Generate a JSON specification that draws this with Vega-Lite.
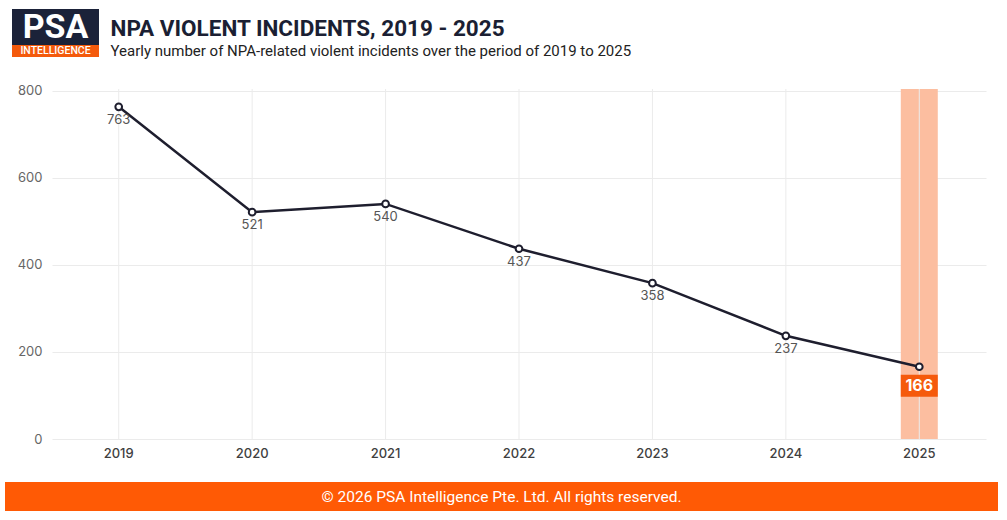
{
  "$schema": "https://vega.github.io/schema/vega-lite/v6.json",
  "background": "white",
  "padding": {"left": 5, "top": 9, "right": 9, "bottom": 9},
  "config": {"view": {"stroke": null}},
  "bounds": "full",
  "spacing": 0,
  "vconcat": [
    {
      "bounds": "full",
      "spacing": 0,
      "hconcat": [
        {"width": 7, "height": 20, "data": {"values": [{}]}, "mark": "text", "encoding": {"text": {"value": ""}}},
        {
          "bounds": "full",
          "spacing": 0,
          "vconcat": [
            {
              "width": 87, "height": 36,
              "view": {"fill": "#1b2239", "stroke": null},
              "data": {"values": [{}]},
              "mark": {"type": "text", "color": "white", "fontSize": 34, "fontWeight": "bold", "font": "Roboto", "baseline": "middle", "dy": 1},
              "encoding": {"text": {"value": "PSA"}}
            },
            {
              "width": 87, "height": 12,
              "view": {"fill": "#f45a0c", "stroke": null},
              "data": {"values": [{}]},
              "mark": {"type": "text", "color": "white", "fontSize": 10.5, "fontWeight": 500, "font": "Roboto", "baseline": "middle"},
              "encoding": {"text": {"value": "INTELLIGENCE"}}
            }
          ]
        },
        {"width": 11, "height": 20, "data": {"values": [{}]}, "mark": "text", "encoding": {"text": {"value": ""}}},
        {
          "width": 1, "height": 50,
          "data": {"values": [{}]},
          "layer": [
            {
              "mark": {"type": "text", "align": "left", "baseline": "middle", "dy": -5, "fontSize": 22.5, "fontWeight": "bold", "color": "#1b1f33", "font": "Roboto"},
              "encoding": {"text": {"value": "NPA VIOLENT INCIDENTS, 2019 - 2025"}}
            },
            {
              "mark": {"type": "text", "align": "left", "baseline": "middle", "dy": 16.5, "fontSize": 15, "color": "#222222", "font": "Roboto"},
              "encoding": {"text": {"value": "Yearly number of NPA-related violent incidents over the period of 2019 to 2025"}}
            }
          ]
        }
      ]
    },
    {"width": 1, "height": 25, "data": {"values": [{}]}, "mark": "text", "encoding": {"text": {"value": ""}}},
    {
      "bounds": "flush",
      "spacing": 0,
      "hconcat": [
        {"width": 47, "height": 20, "data": {"values": [{}]}, "mark": "text", "encoding": {"text": {"value": ""}}},
        {
          "width": 934,
          "height": 350,
          "data": {"values": [
            {"year": 2019, "incidents": 763},
            {"year": 2020, "incidents": 521},
            {"year": 2021, "incidents": 540},
            {"year": 2022, "incidents": 437},
            {"year": 2023, "incidents": 358},
            {"year": 2024, "incidents": 237},
            {"year": 2025, "incidents": 166}
          ]},
          "encoding": {
            "x": {
              "field": "year", "type": "ordinal",
              "axis": {"title": null, "labelAngle": 0, "domain": false, "ticks": false, "grid": false, "labelColor": "#3f3f3f", "labelFontSize": 13, "labelPadding": 8, "labelFont": "Inter", "labelFontWeight": 500}
            }
          },
          "layer": [
            {
              "transform": [{"filter": "datum.year == 2025"}],
              "mark": {"type": "bar", "color": "#fcbea0", "width": 37}
            },
            {
              "mark": {"type": "rule", "color": "#ebebeb", "strokeWidth": 1}
            },
            {
              "mark": {"type": "line", "color": "#1e1e2e", "strokeWidth": 2.5},
              "encoding": {
                "y": {
                  "field": "incidents", "type": "quantitative",
                  "scale": {"domain": [0, 804], "nice": false},
                  "axis": {"title": null, "values": [0, 200, 400, 600, 800], "domain": false, "ticks": false, "labelColor": "#666666", "labelFontSize": 13, "labelPadding": 10, "labelFont": "Inter", "gridColor": "#ebebeb"}
                }
              }
            },
            {
              "mark": {"type": "point", "filled": true, "fill": "white", "stroke": "#1e1e2e", "strokeWidth": 2, "size": 45, "opacity": 1},
              "encoding": {"y": {"field": "incidents", "type": "quantitative"}}
            },
            {
              "transform": [{"filter": "datum.year != 2025"}],
              "mark": {"type": "text", "baseline": "middle", "dy": 13, "fontSize": 13, "color": "#555555", "font": "Inter"},
              "encoding": {
                "y": {"field": "incidents", "type": "quantitative"},
                "text": {"field": "incidents", "type": "quantitative"}
              }
            },
            {
              "transform": [{"filter": "datum.year == 2025"}],
              "mark": {"type": "point", "shape": "M-1,-0.6H1V0.6H-1Z", "size": 1369, "filled": true, "color": "#f55a0c", "opacity": 1, "yOffset": 19},
              "encoding": {"y": {"field": "incidents", "type": "quantitative"}}
            },
            {
              "transform": [{"filter": "datum.year == 2025"}],
              "mark": {"type": "text", "baseline": "middle", "dy": 19, "fontSize": 16, "fontWeight": "bold", "color": "white", "font": "Inter"},
              "encoding": {
                "y": {"field": "incidents", "type": "quantitative"},
                "text": {"field": "incidents", "type": "quantitative"}
              }
            }
          ]
        }
      ]
    },
    {"width": 1, "height": 22, "data": {"values": [{}]}, "mark": "text", "encoding": {"text": {"value": ""}}},
    {
      "width": 993, "height": 29,
      "view": {"fill": "#ff5a05", "stroke": null},
      "data": {"values": [{}]},
      "mark": {"type": "text", "color": "white", "fontSize": 15.5, "font": "Roboto", "baseline": "middle"},
      "encoding": {"text": {"value": "© 2026 PSA Intelligence Pte. Ltd. All rights reserved."}}
    }
  ]
}
